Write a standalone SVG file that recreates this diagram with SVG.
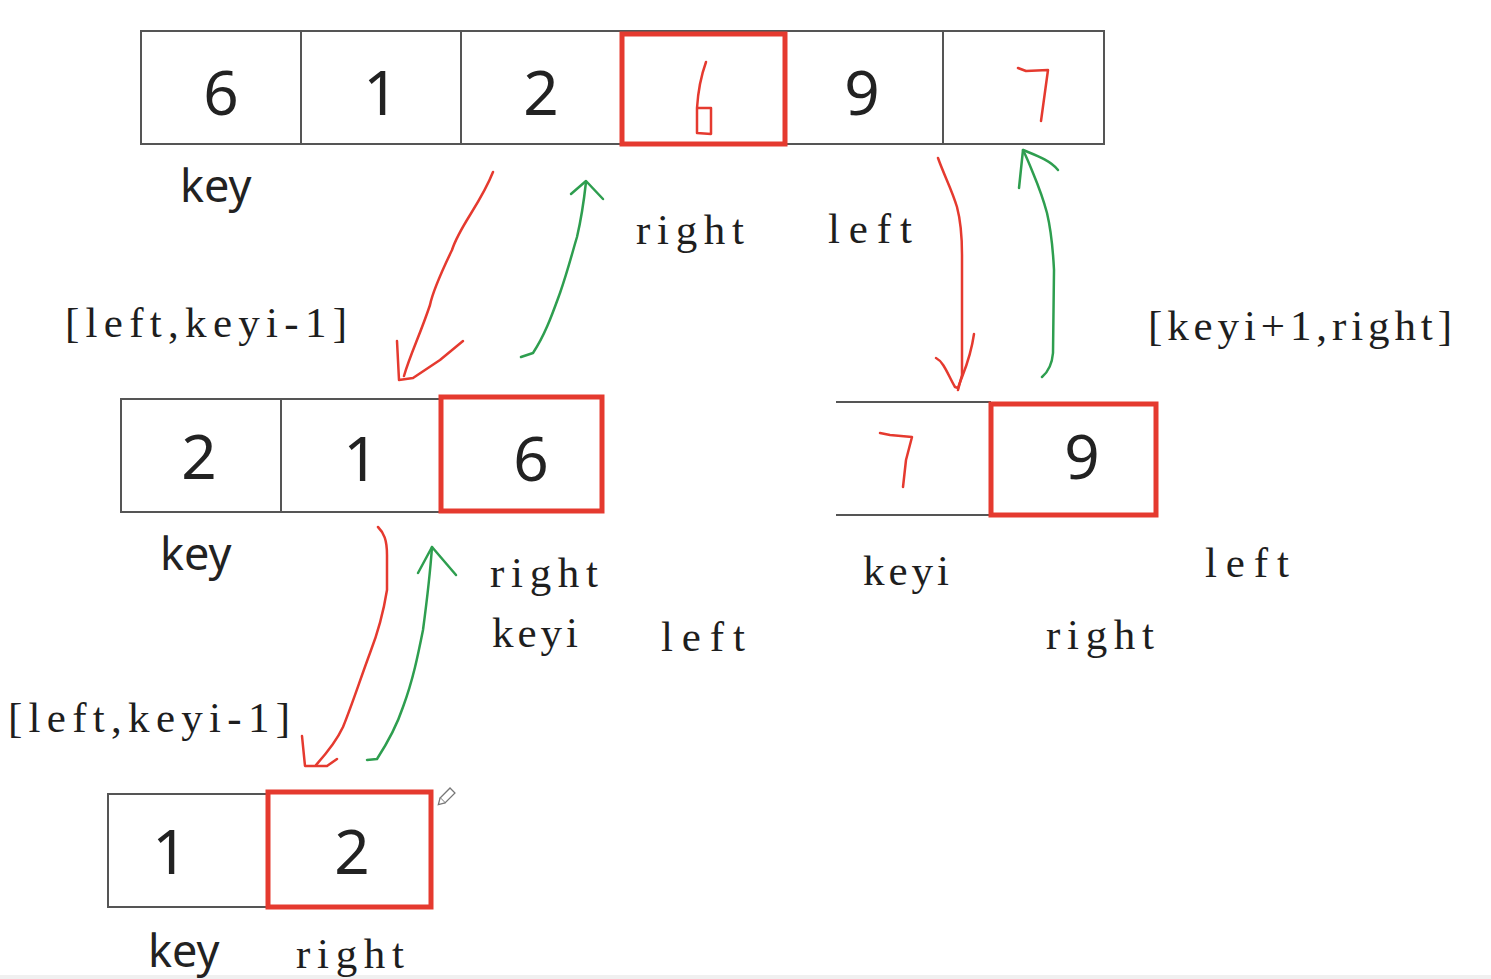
<svg xmlns="http://www.w3.org/2000/svg" width="1491" height="979" viewBox="0 0 1491 979">
<style>
.cell{fill:#fff;stroke:#555;stroke-width:2}
.line{stroke:#555;stroke-width:2;fill:none}
.hl{fill:none;stroke:#e53a2f;stroke-width:5}
.num{font-family:"Noto Sans","Open Sans","DejaVu Sans",sans-serif;font-size:62px;fill:#222;text-anchor:middle}
.key{font-family:"Noto Sans","Open Sans","DejaVu Sans",sans-serif;font-size:45px;fill:#222}
.lbl{font-family:"Liberation Serif","Times New Roman",serif;font-size:43px;fill:#1e1e1e}
.hand{fill:none;stroke:#e53a2f;stroke-width:2.5;stroke-linecap:round;stroke-linejoin:round}
.red{fill:none;stroke:#e53a2f;stroke-width:2.5;stroke-linecap:round;stroke-linejoin:round}
.green{fill:none;stroke:#2e9e4f;stroke-width:2.5;stroke-linecap:round;stroke-linejoin:round}
</style>
<rect width="1491" height="979" fill="#fff"/>
<rect x="0" y="975" width="1491" height="4" fill="#f0f0f0"/>

<g id="node-top">
  <rect class="cell" x="141" y="31" width="963" height="113"/>
  <line class="line" x1="301" y1="31" x2="301" y2="144"/>
  <line class="line" x1="461" y1="31" x2="461" y2="144"/>
  <line class="line" x1="943" y1="31" x2="943" y2="144"/>
  <rect class="hl" x="622" y="34" width="163" height="110"/>
  <text class="num" x="221" y="115">6</text>
  <text class="num" x="381" y="115">1</text>
  <text class="num" x="541" y="115">2</text>
  <text class="num" x="862" y="115">9</text>
  <path class="hand" d="M706,62 C701,76 698,92 697,108 L697,133 L711,134 L711,108 L697,108"/>
  <path class="hand" d="M1018,68 L1026,71 L1048,70 L1041,121"/>
  <text class="key" x="180" y="202">key</text>
</g>

<g id="node-mid-left">
  <rect class="cell" x="121" y="399" width="320" height="113"/>
  <line class="line" x1="281" y1="399" x2="281" y2="512"/>
  <rect class="hl" x="441" y="397" width="161" height="114"/>
  <text class="num" x="199" y="479">2</text>
  <text class="num" x="361" y="481">1</text>
  <text class="num" x="531" y="481">6</text>
  <text class="key" x="160" y="570">key</text>
</g>

<g id="node-mid-right">
  <line class="line" x1="836" y1="402" x2="991" y2="402"/>
  <line class="line" x1="836" y1="515" x2="991" y2="515"/>
  <rect class="hl" x="991" y="404" width="165" height="111"/>
  <text class="num" x="1082" y="479">9</text>
  <path class="hand" d="M880,433 L890,435 L912,437 L906,460 L903,487"/>
</g>

<g id="node-bottom">
  <rect class="cell" x="108" y="794" width="160" height="113"/>
  <rect class="hl" x="268" y="792" width="163" height="115"/>
  <text class="num" x="170" y="874">1</text>
  <text class="num" x="352" y="874">2</text>
  <text class="key" x="148" y="967">key</text>
  <g transform="translate(444,799) rotate(-45)" fill="#fff" stroke="#777" stroke-width="1.3">
    <rect x="-2" y="-3.5" width="14" height="7"/>
    <path d="M-2,-3.5 L-8,0 L-2,3.5"/>
  </g>
</g>

<g id="labels">
  <text class="lbl" x="636" y="244" textLength="108" lengthAdjust="spacing">right</text>
  <text class="lbl" x="828" y="243" textLength="84" lengthAdjust="spacing">left</text>
  <text class="lbl" x="65" y="337" textLength="282" lengthAdjust="spacing">[left,keyi-1]</text>
  <text class="lbl" x="1148" y="340" textLength="304" lengthAdjust="spacing">[keyi+1,right]</text>
  <text class="lbl" x="490" y="587" textLength="108" lengthAdjust="spacing">right</text>
  <text class="lbl" x="492" y="647" textLength="86" lengthAdjust="spacing">keyi</text>
  <text class="lbl" x="661" y="651" textLength="84" lengthAdjust="spacing">left</text>
  <text class="lbl" x="863" y="585" textLength="86" lengthAdjust="spacing">keyi</text>
  <text class="lbl" x="1205" y="577" textLength="84" lengthAdjust="spacing">left</text>
  <text class="lbl" x="1046" y="649" textLength="108" lengthAdjust="spacing">right</text>
  <text class="lbl" x="8" y="732" textLength="282" lengthAdjust="spacing">[left,keyi-1]</text>
  <text class="lbl" x="296" y="968" textLength="108" lengthAdjust="spacing">right</text>
</g>

<g id="connectors">
  <path class="red" d="M493,172 C480,205 460,225 452,250 C440,275 432,295 430,305 C420,335 410,355 404,376"/>
  <path class="red" d="M397,341 L399,380 L413,378 L440,360 L463,341"/>
  <path class="green" d="M521,357 L533,353 C545,335 552,315 560,293 C568,270 573,250 577,237 C581,220 584,200 586,182"/>
  <path class="green" d="M571,194 L586,181 L603,199"/>
  <path class="red" d="M938,158 C944,175 952,190 957,207 C961,222 962,240 962,255 L962,375 L958,390"/>
  <path class="red" d="M936,358 C944,362 948,375 955,387 L958,388 C962,375 970,362 974,334"/>
  <path class="green" d="M1042,377 C1048,372 1052,365 1053,353 L1054,270 C1053,250 1051,230 1047,213 C1043,198 1038,185 1033,173 C1029,163 1026,156 1023,150"/>
  <path class="green" d="M1019,188 L1023,150 C1035,155 1050,160 1058,170"/>
  <path class="red" d="M378,527 C384,533 387,540 387,555 L387,590 C383,615 377,635 370,653 C360,680 352,705 343,727 C336,742 325,755 316,765"/>
  <path class="red" d="M302,736 L305,766 L327,766 L337,759"/>
  <path class="green" d="M367,760 L377,759 C388,742 397,725 403,707 C413,680 418,655 423,630 C427,600 430,575 432,547"/>
  <path class="green" d="M418,573 L432,547 L456,575"/>
</g>
</svg>
